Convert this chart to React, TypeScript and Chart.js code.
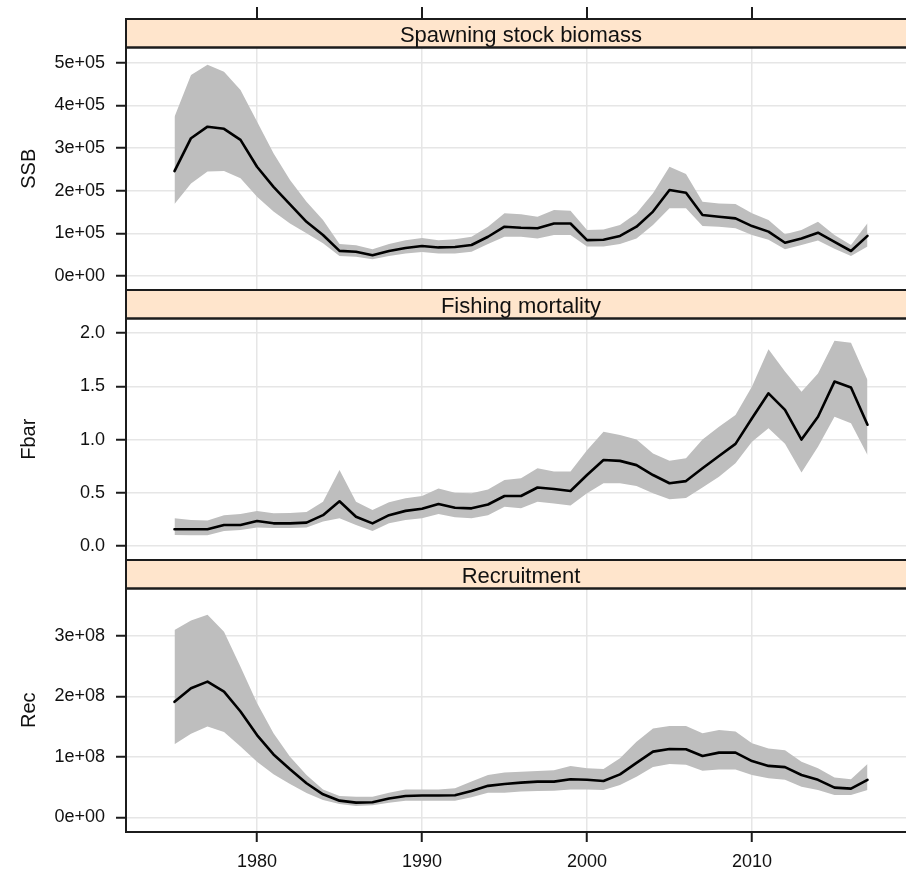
import React, { useEffect, useRef } from "react";
import { Chart, registerables } from "chart.js";

Chart.register(...registerables);

const FONT = "'Liberation Sans', Arial, sans-serif";

const years = [
  1975, 1976, 1977, 1978, 1979, 1980, 1981, 1982, 1983, 1984, 1985, 1986, 1987, 1988, 1989,
  1990, 1991, 1992, 1993, 1994, 1995, 1996, 1997, 1998, 1999, 2000, 2001, 2002, 2003, 2004,
  2005, 2006, 2007, 2008, 2009, 2010, 2011, 2012, 2013, 2014, 2015, 2016, 2017,
];

const ssbMean = [
  246000, 323000, 350000, 345000, 319000, 256000, 209000, 168000, 127000, 96000, 59000, 57000,
  48500, 58600, 65600, 70300, 67000, 68000, 72700, 92000, 115600, 113000, 112000, 123000, 123000,
  84000, 85000, 94000, 115600, 151000, 201600, 195000, 143000, 139000, 135000, 117000, 104000,
  78000, 88000, 101500, 80000, 58600, 94000,
];
const ssbHigh = [
  373000, 471000, 495000, 479000, 436000, 362000, 288000, 225000, 174000, 131000, 75000, 72000,
  62500, 75000, 84000, 89000, 84000, 86000, 92000, 115600, 147000, 145000, 139000, 155000, 153000,
  108000, 109000, 119500, 147000, 194000, 256000, 239000, 174000, 170000, 169000, 147000, 131000,
  98000, 108000, 127000, 96000, 72700, 123500,
];
const ssbLow = [
  169000, 217000, 245000, 246000, 229000, 186000, 151000, 123000, 100000, 77000, 47000, 45000,
  39000, 47000, 53000, 56000, 53000, 53000, 57000, 75000, 92000, 92000, 88000, 96000, 96000,
  69000, 69000, 75000, 88000, 119500, 159000, 159000, 117000, 115600, 112000, 96000, 85000,
  62500, 72700, 83000, 64000, 47000, 69000,
];

const fbarMean = [
  0.157, 0.157, 0.157, 0.197, 0.197, 0.235, 0.213, 0.213, 0.22, 0.29, 0.42, 0.275, 0.213, 0.29,
  0.33, 0.35, 0.395, 0.36, 0.354, 0.39, 0.47, 0.47, 0.55, 0.535, 0.517, 0.667, 0.808, 0.8, 0.76,
  0.667, 0.59, 0.61, 0.73, 0.846, 0.96, 1.2, 1.435, 1.28, 1.0, 1.215, 1.545, 1.49, 1.14,
];
const fbarHigh = [
  0.26, 0.244, 0.24, 0.29, 0.3, 0.33, 0.307, 0.31, 0.32, 0.416, 0.714, 0.416, 0.338, 0.41, 0.448,
  0.47, 0.54, 0.5, 0.495, 0.53, 0.62, 0.636, 0.73, 0.7, 0.7, 0.9, 1.074, 1.043, 1.0, 0.87, 0.8,
  0.824, 1.0, 1.12, 1.23, 1.5, 1.85, 1.64, 1.45, 1.62, 1.93, 1.91, 1.56,
];
const fbarLow = [
  0.103, 0.1, 0.1, 0.14, 0.15, 0.175, 0.17, 0.17, 0.175, 0.23, 0.26, 0.197, 0.14, 0.213, 0.244,
  0.26, 0.3, 0.27, 0.26, 0.29, 0.37, 0.354, 0.416, 0.4, 0.38, 0.495, 0.59, 0.59, 0.564, 0.495,
  0.44, 0.45, 0.55, 0.65, 0.777, 0.98, 1.106, 0.96, 0.69, 0.933, 1.215, 1.153, 0.855,
];

const recMean = [
  1.91e8, 2.135e8, 2.245e8, 2.08e8, 1.75e8, 1.36e8, 1.04e8, 0.795e8, 0.563e8, 0.38e8, 0.275e8,
  0.242e8, 0.25e8, 0.31e8, 0.353e8, 0.36e8, 0.36e8, 0.365e8, 0.435e8, 0.52e8, 0.55e8, 0.573e8,
  0.59e8, 0.59e8, 0.63e8, 0.62e8, 0.6e8, 0.71e8, 0.9e8, 1.086e8, 1.13e8, 1.126e8, 1.015e8,
  1.07e8, 1.07e8, 0.93e8, 0.85e8, 0.83e8, 0.7e8, 0.62e8, 0.49e8, 0.474e8, 0.62e8,
];
const recHigh = [
  3.1e8, 3.255e8, 3.35e8, 3.07e8, 2.49e8, 1.89e8, 1.39e8, 1.0e8, 0.7e8, 0.46e8, 0.353e8, 0.34e8,
  0.34e8, 0.407e8, 0.46e8, 0.46e8, 0.46e8, 0.48e8, 0.59e8, 0.7e8, 0.74e8, 0.755e8, 0.765e8,
  0.78e8, 0.85e8, 0.81e8, 0.8e8, 0.977e8, 1.25e8, 1.47e8, 1.51e8, 1.51e8, 1.39e8, 1.445e8,
  1.42e8, 1.225e8, 1.14e8, 1.11e8, 0.92e8, 0.81e8, 0.66e8, 0.63e8, 0.88e8,
];
const recLow = [
  1.21e8, 1.38e8, 1.5e8, 1.41e8, 1.17e8, 0.92e8, 0.71e8, 0.55e8, 0.4e8, 0.286e8, 0.22e8, 0.187e8,
  0.2e8, 0.242e8, 0.275e8, 0.275e8, 0.275e8, 0.275e8, 0.33e8, 0.407e8, 0.407e8, 0.425e8,
  0.435e8, 0.44e8, 0.46e8, 0.46e8, 0.45e8, 0.535e8, 0.67e8, 0.83e8, 0.88e8, 0.87e8, 0.77e8,
  0.79e8, 0.79e8, 0.7e8, 0.645e8, 0.62e8, 0.507e8, 0.45e8, 0.37e8, 0.37e8, 0.45e8,
];

const xTicks = [1980, 1990, 2000, 2010];
const ssbTicks = [0, 1e5, 2e5, 3e5, 4e5, 5e5];
const ssbTickLabels = ["0e+00", "1e+05", "2e+05", "3e+05", "4e+05", "5e+05"];
const fbarTicks = [0, 0.5, 1, 1.5, 2];
const fbarTickLabels = ["0.0", "0.5", "1.0", "1.5", "2.0"];
const recTicks = [0, 1e8, 2e8, 3e8];
const recTickLabels = ["0e+00", "1e+08", "2e+08", "3e+08"];

const stripTitles = ["Spawning stock biomass", "Fishing mortality", "Recruitment"];
const axisTitles = ["SSB", "Fbar", "Rec"];

const CANVAS_W = 920;
const CANVAS_H = 872;
const X_MIN = 1972.06;
const X_MAX = 2019.94;
const STRIP_H = 28.5;

type Panel = {
  strip: string;
  title: string;
  mean: number[];
  low: number[];
  high: number[];
  ticks: number[];
  labels: string[];
  min: number;
  max: number;
  top: number;
  bottom: number;
  showX: boolean;
  topTicks: boolean;
};

const panels: Panel[] = [
  {
    strip: stripTitles[0], title: axisTitles[0], mean: ssbMean, low: ssbLow, high: ssbHigh,
    ticks: ssbTicks, labels: ssbTickLabels, min: -32800, max: 535600,
    top: 47.5, bottom: 290, showX: false, topTicks: true,
  },
  {
    strip: stripTitles[1], title: axisTitles[1], mean: fbarMean, low: fbarLow, high: fbarHigh,
    ticks: fbarTicks, labels: fbarTickLabels, min: -0.1316, max: 2.138,
    top: 318.5, bottom: 560, showX: false, topTicks: false,
  },
  {
    strip: stripTitles[2], title: axisTitles[2], mean: recMean, low: recLow, high: recHigh,
    ticks: recTicks, labels: recTickLabels, min: -0.2434e8, max: 3.785e8,
    top: 588.5, bottom: 832, showX: true, topTicks: false,
  },
];

const framePlugin = {
  id: "latticeFrame",
  afterDraw(chart: any) {
    const p: Panel = chart.options.plugins.latticeFrame.panel;
    const { ctx, chartArea } = chart;
    const { left, right, top, bottom } = chartArea;
    const st = top - STRIP_H;
    ctx.save();
    ctx.fillStyle = "#ffe5cc";
    ctx.fillRect(left, st, right - left, STRIP_H);
    ctx.strokeStyle = "#1c1c1c";
    ctx.lineWidth = 2;
    ctx.strokeRect(left, st, right - left, STRIP_H);
    ctx.strokeRect(left, top, right - left, bottom - top);
    ctx.fillStyle = "#111";
    ctx.font = `22px ${FONT}`;
    ctx.textAlign = "center";
    ctx.textBaseline = "alphabetic";
    ctx.fillText(p.strip, (left + right) / 2, top - 5.5);
    if (p.topTicks) {
      const xs = chart.scales.x;
      ctx.beginPath();
      for (const v of xTicks) {
        const px = xs.getPixelForValue(v);
        ctx.moveTo(px, st - 12);
        ctx.lineTo(px, st);
      }
      ctx.stroke();
    }
    ctx.restore();
  },
};

function makeChart(canvas: HTMLCanvasElement, p: Panel) {
  const pts = (arr: number[]) => years.map((y, i) => ({ x: y, y: arr[i] }));
  return new Chart(canvas, {
    type: "line",
    data: {
      datasets: [
        {
          data: pts(p.high),
          order: 2,
          borderWidth: 0,
          borderColor: "rgba(0,0,0,0)",
          backgroundColor: "#bebebe",
          pointRadius: 0,
          fill: "+1",
        },
        {
          data: pts(p.low),
          order: 1,
          borderWidth: 0,
          borderColor: "rgba(0,0,0,0)",
          pointRadius: 0,
          fill: false,
        },
        {
          data: pts(p.mean),
          order: 0,
          borderWidth: 2.6,
          borderColor: "#000",
          borderJoinStyle: "round",
          borderCapStyle: "round",
          pointRadius: 0,
          fill: false,
        },
      ],
    },
    options: {
      responsive: false,
      animation: false,
      events: [],
      layout: {
        autoPadding: false,
        padding: {
          top: p.top,
          bottom: p.showX ? CANVAS_H - p.bottom - 40 : CANVAS_H - p.bottom,
          left: 0,
          right: CANVAS_W - 916,
        },
      },
      plugins: {
        legend: { display: false },
        tooltip: { enabled: false },
        title: { display: false },
        latticeFrame: { panel: p },
      } as any,
      scales: {
        x: {
          type: "linear",
          min: X_MIN,
          max: X_MAX,
          afterBuildTicks: (s: any) => {
            s.ticks = xTicks.map((v) => ({ value: v }));
          },
          afterFit: (s: any) => {
            s.height = p.showX ? 40 : 0;
          },
          border: { display: false },
          grid: {
            color: "#e6e6e6",
            lineWidth: 1.5,
            drawTicks: p.showX,
            tickLength: 10,
            tickColor: "#1c1c1c",
            tickWidth: 2,
          },
          ticks: {
            display: p.showX,
            padding: 9,
            color: "#111",
            font: { size: 18, family: FONT },
            maxRotation: 0,
            autoSkip: false,
            callback: (v: any) => String(v),
          },
        },
        y: {
          type: "linear",
          min: p.min,
          max: p.max,
          afterBuildTicks: (s: any) => {
            s.ticks = p.ticks.map((v) => ({ value: v }));
          },
          afterFit: (s: any) => {
            s.width = 126;
          },
          border: { display: false },
          grid: {
            color: "#e6e6e6",
            lineWidth: 1.5,
            drawTicks: true,
            tickLength: 10,
            tickColor: "#1c1c1c",
            tickWidth: 2,
          },
          ticks: {
            padding: 11,
            color: "#111",
            font: { size: 18, family: FONT },
            autoSkip: false,
            callback: (_v: any, i: number) => p.labels[i],
          },
          title: {
            display: true,
            text: p.title,
            color: "#111",
            font: { size: 20, family: FONT },
            padding: { top: 17, bottom: 0 },
          },
        },
      },
    } as any,
    plugins: [framePlugin],
  });
}

export default function App() {
  const r1 = useRef<HTMLCanvasElement>(null);
  const r2 = useRef<HTMLCanvasElement>(null);
  const r3 = useRef<HTMLCanvasElement>(null);

  useEffect(() => {
    const refs = [r1, r2, r3];
    const charts = panels.map((p, i) => makeChart(refs[i].current as HTMLCanvasElement, p));
    return () => charts.forEach((c) => c.destroy());
  }, []);

  const cStyle: React.CSSProperties = {
    position: "absolute",
    left: 0,
    top: 0,
    display: "block",
  };

  return (
    <div
      style={{
        position: "fixed",
        left: 0,
        top: 0,
        width: 906,
        height: 872,
        overflow: "hidden",
        background: "#fff",
      }}
    >
      <canvas ref={r1} width={CANVAS_W} height={CANVAS_H} style={cStyle} />
      <canvas ref={r2} width={CANVAS_W} height={CANVAS_H} style={cStyle} />
      <canvas ref={r3} width={CANVAS_W} height={CANVAS_H} style={cStyle} />
    </div>
  );
}
